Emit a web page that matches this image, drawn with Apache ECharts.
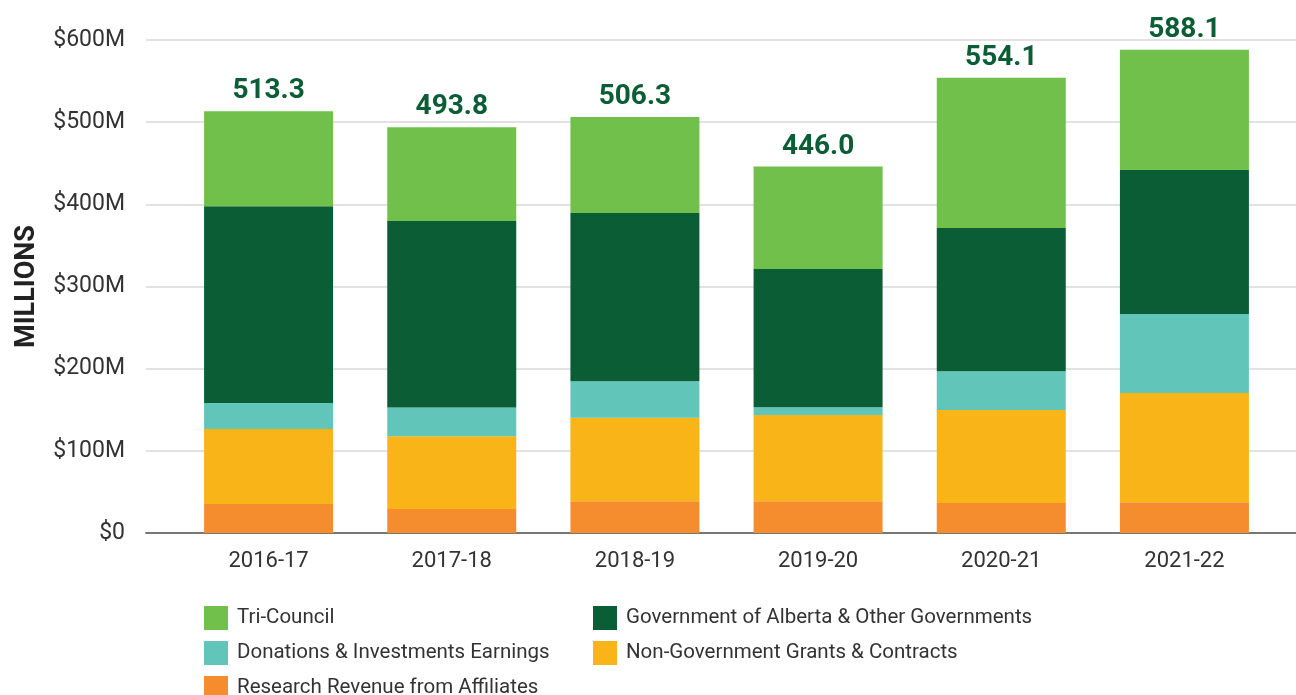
<!DOCTYPE html>
<html>
<head>
<meta charset="utf-8">
<script src="https://cdn.jsdelivr.net/npm/echarts@6/dist/echarts.min.js"></script>
<style>
html,body{margin:0;padding:0;background:#fff;}
#chart{width:1296px;height:695px;}
</style>
</head>
<body>
<div id="chart"></div>
<script>
const categories = ['2016-17', '2017-18', '2018-19', '2019-20', '2020-21', '2021-22'];
const affiliates = [35.2, 29.1, 38.7, 38.7, 36.5, 37.4];
const nonGov = [91.3, 88.7, 101.7, 104.8, 113.1, 133.0];
const donations = [31.8, 34.8, 44.4, 9.5, 47.4, 96.1];
const government = [239.5, 227.0, 204.8, 168.3, 174.3, 175.2];
const triCouncil = [115.5, 114.2, 116.7, 124.7, 182.8, 146.4];
const totals = [513.3, 493.8, 506.3, 446.0, 554.1, 588.1];
const yTicks = [0, 100, 200, 300, 400, 500, 600];
const legendNames = [
  'Tri-Council', 'Government of Alberta & Other Governments',
  'Donations & Investments Earnings', 'Non-Government Grants & Contracts',
  'Research Revenue from Affiliates'
];

const FONT = 'Roboto, "Noto Sans", sans-serif';
const C = {
  tri: '#70c04b', gov: '#0b5d35', don: '#62c5ba', nongov: '#f9b518', aff: '#f58d2f'
};

const chart = echarts.init(document.getElementById('chart'));

function bar(name, data, color, extra) {
  return Object.assign({
    name: name, type: 'bar', stack: 'total', data: data,
    xAxisIndex: 1, yAxisIndex: 1, barWidth: 129,
    itemStyle: { color: color },
    emphasis: { disabled: true }
  }, extra || {});
}

const legendText = { fontFamily: FONT, fontSize: 20.5, color: '#333', padding: [2, 0, 0, 4] };
const legends = legendNames.map((n, i) => ({
  data: [n], left: (i % 2 === 0) ? 199 : 588, top: 601 + Math.floor(i / 2) * 35,
  itemWidth: 24, itemHeight: 24, icon: 'rect', textStyle: legendText, selectedMode: false
}));

chart.setOption({
  animation: false,
  textStyle: { fontFamily: FONT },
  grid: [
    { left: 146, right: 0, top: 40, bottom: 162 },
    { left: 177, right: 20, top: 40, bottom: 162 }
  ],
  legend: legends,
  xAxis: [
    { type: 'value', gridIndex: 0, min: 0, max: 1,
      axisLine: { show: true, lineStyle: { color: '#777', width: 2 } },
      axisTick: { show: false }, axisLabel: { show: false }, splitLine: { show: false } },
    { type: 'category', gridIndex: 1, data: categories,
      axisLine: { show: false }, axisTick: { show: false },
      axisLabel: { fontFamily: FONT, fontSize: 22, color: '#333', margin: 17 } }
  ],
  yAxis: [
    { type: 'value', gridIndex: 0, min: 0, max: 600, interval: 100,
      name: 'MILLIONS', nameLocation: 'middle', nameRotate: 90, nameGap: 105,
      nameTextStyle: { fontFamily: FONT, fontSize: 27, fontWeight: 'bold', color: '#222' },
      axisLine: { show: false }, axisTick: { show: false },
      axisLabel: { fontFamily: FONT, fontSize: 23, color: '#333', margin: 21,
        formatter: v => (yTicks.indexOf(v) >= 0 ? (v === 0 ? '$0' : '$' + v + 'M') : '') },
      splitLine: { lineStyle: { color: '#d9d9d9', width: 1.5 } } },
    { type: 'value', gridIndex: 1, min: 0, max: 600, interval: 100, show: false,
      splitLine: { show: false } }
  ],
  series: [
    bar('Research Revenue from Affiliates', affiliates, C.aff),
    bar('Non-Government Grants & Contracts', nonGov, C.nongov),
    bar('Donations & Investments Earnings', donations, C.don),
    bar('Government of Alberta & Other Governments', government, C.gov),
    bar('Tri-Council', triCouncil, C.tri, {
      label: { show: true, position: 'top', distance: 6,
        formatter: p => totals[p.dataIndex].toFixed(1),
        fontFamily: FONT, fontSize: 28, fontWeight: 'bold', color: '#0b5d35' }
    })
  ]
});
</script>
</body>
</html>
